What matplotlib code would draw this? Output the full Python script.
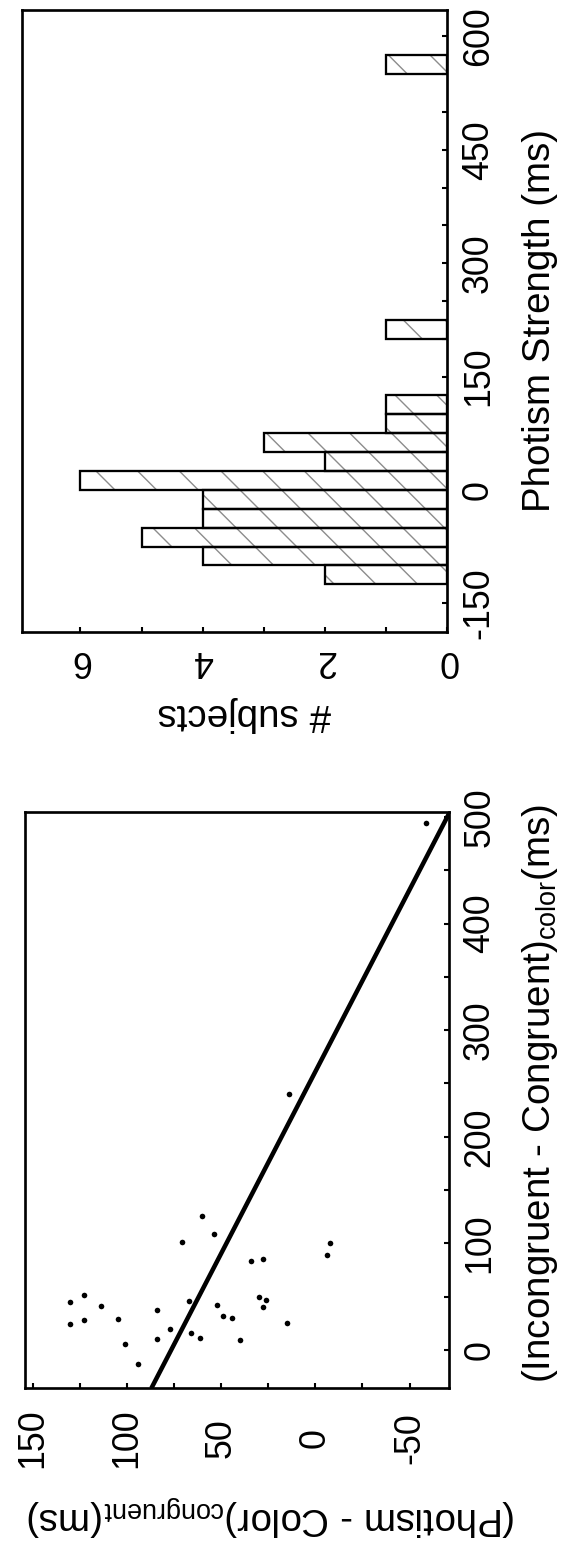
import numpy as np
import matplotlib
matplotlib.use('Agg')
import matplotlib.pyplot as plt
from matplotlib.ticker import MultipleLocator, FixedLocator

# --- histogram: photism strength (bin left edge, ms) and number of subjects
bin_left = [-125, -100, -75, -50, -25, 0, 25, 50, 75, 100, 200, 550]
n_subjects = [2, 4, 5, 4, 4, 6, 2, 3, 1, 1, 1, 1]
bin_width = 25

# --- scatter: (Incongruent - Congruent)color vs (Photism - Color)congruent, ms
incong_minus_cong = [45, 52, 41, 24, 28, 29, 6, -13, 37, 10, 20, 46, 16, 11,
                     42, 32, 30, 9, 50, 47, 40, 25, 83, 85, 240, 126, 109,
                     101, 100, 89, 494]
photism_minus_color = [130, 123, 114, 130, 123, 105, 101, 94, 84, 84, 77, 67,
                       66, 61, 52, 49, 44, 40, 30, 26, 28, 15, 34, 28, 14, 60,
                       54, 71, -8, -6, -59]

# regression line as drawn in the figure
fit_slope = -0.293
fit_intercept = 76.5
fit_span = [-36, 505]

plt.rcParams['font.family'] = 'Liberation Sans'
plt.rcParams['mathtext.fontset'] = 'custom'
plt.rcParams['mathtext.rm'] = 'Liberation Sans'
plt.rcParams['mathtext.it'] = 'Liberation Sans:italic'
plt.rcParams['axes.unicode_minus'] = False
plt.rcParams['hatch.linewidth'] = 0.4

W, H, DPI = 582, 1548, 250
TICK_FS = 10.3
LABEL_FS = 11.1

fig = plt.figure(figsize=(W / DPI, H / DPI), dpi=DPI)


def px_axes(left, top, right, bottom):
    # axes box given in pixel coords of the (rotated) page
    return fig.add_axes([left / W, 1 - bottom / H, (right - left) / W, (bottom - top) / H])


def style_axes(ax):
    for sp in ax.spines.values():
        sp.set_linewidth(0.77)
    ax.yaxis.tick_right()
    ax.tick_params(which='both', direction='in', length=1.45, width=0.6,
                   left=False, top=False, right=True, bottom=True,
                   labelsize=TICK_FS)


# ---------------- histogram (top of page, drawn sideways) ----------------
ax_h = px_axes(22.3, 10, 447.3, 632)
ax_h.barh(bin_left, n_subjects, height=bin_width, align='edge',
          color='white', edgecolor='#8c8c8c', linewidth=0, hatch='\\\\')
ax_h.barh(bin_left, n_subjects, height=bin_width, align='edge',
          fill=False, edgecolor='black', linewidth=0.66)
ax_h.set_xlim(6.95, 0)
ax_h.set_ylim(-188, 635)
style_axes(ax_h)
ax_h.yaxis.set_major_locator(FixedLocator([-150, 0, 150, 300, 450, 600]))
ax_h.yaxis.set_minor_locator(MultipleLocator(50))
ax_h.xaxis.set_major_locator(FixedLocator([0, 2, 4, 6]))
ax_h.xaxis.set_minor_locator(MultipleLocator(1))
ax_h.tick_params(axis='y', pad=9.0)
ax_h.tick_params(axis='x', pad=8.3)
plt.setp(ax_h.get_yticklabels(), rotation=90, ha='center', va='center')
plt.setp(ax_h.get_xticklabels(), rotation=180, ha='center', va='center')

ax_h.yaxis.set_label_position('right')
ax_h.set_ylabel('Photism Strength (ms)', fontsize=LABEL_FS, rotation=90,
                ha='center', va='center')
ax_h.yaxis.set_label_coords((540 - 22.3) / 425, 0.5)
ax_h.set_xlabel('# subjects', fontsize=LABEL_FS, rotation=180,
                ha='center', va='center')
ax_h.xaxis.set_label_coords((244 - 22.3) / 425, -(714 - 632) / 622)

# ---------------- scatter (bottom of page, drawn sideways) ----------------
ax_s = px_axes(25.2, 811.7, 449.1, 1388.3)
ax_s.scatter(photism_minus_color, incong_minus_cong, s=2.6, color='black',
             linewidths=0, zorder=3)
span = np.array(fit_span, dtype=float)
ax_s.plot(fit_intercept + fit_slope * span, span, color='black', lw=1.3,
          solid_capstyle='butt', zorder=2)
ax_s.set_xlim(154, -71)
ax_s.set_ylim(-36, 505)
style_axes(ax_s)
ax_s.yaxis.set_major_locator(FixedLocator([0, 100, 200, 300, 400, 500]))
ax_s.yaxis.set_minor_locator(MultipleLocator(50))
ax_s.xaxis.set_major_locator(FixedLocator([-50, 0, 50, 100, 150]))
ax_s.xaxis.set_minor_locator(MultipleLocator(25))
ax_s.tick_params(axis='y', pad=8.8)
ax_s.tick_params(axis='x', pad=14.3)
plt.setp(ax_s.get_yticklabels(), rotation=90, ha='center', va='center')
plt.setp(ax_s.get_xticklabels(), rotation=90, ha='center', va='center')

ax_s.yaxis.set_label_position('right')
ax_s.set_ylabel(r'(Incongruent - Congruent)$_{\mathrm{color}}$(ms)',
                fontsize=LABEL_FS, rotation=90, ha='center', va='center')
ax_s.yaxis.set_label_coords((540 - 25.2) / 423.9, (1388.3 - 1093) / 576.6)
ax_s.set_xlabel(r'(Photism - Color)$_{\mathrm{congruent}}$(ms)',
                fontsize=LABEL_FS, rotation=180, ha='center', va='center')
ax_s.xaxis.set_label_coords((272 - 25.2) / 423.9, -(1515 - 1388.3) / 576.6)

fig.savefig('out.png', dpi=DPI)
